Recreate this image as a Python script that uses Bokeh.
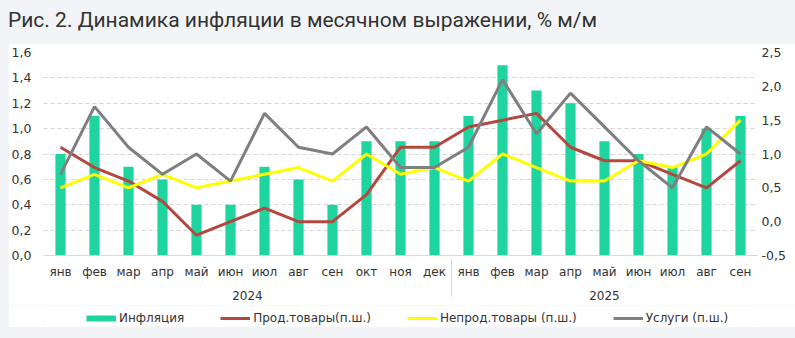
from bokeh.plotting import figure
from bokeh.models import (FactorRange, Range1d, LinearAxis, FixedTicker,
                          CustomJSTickFormatter, Legend, LegendItem, Div, ColumnDataSource)
from bokeh.layouts import column
from bokeh.embed import file_html
from bokeh.resources import INLINE

# ---- data ----
years = ["2024"] * 12 + ["2025"] * 9
months = ["янв", "фев", "мар", "апр", "май", "июн", "июл", "авг", "сен", "окт", "ноя", "дек",
          "янв", "фев", "мар", "апр", "май", "июн", "июл", "авг", "сен"]
inflation = [0.8, 1.1, 0.7, 0.6, 0.4, 0.4, 0.7, 0.6, 0.4, 0.9, 0.9, 0.9,
             1.1, 1.5, 1.3, 1.2, 0.9, 0.8, 0.7, 1.0, 1.1]
food = [1.1, 0.8, 0.6, 0.3, -0.2, 0.0, 0.2, 0.0, 0.0, 0.4, 1.1, 1.1,
        1.4, 1.5, 1.6, 1.1, 0.9, 0.9, 0.7, 0.5, 0.9]
nonfood = [0.5, 0.7, 0.5, 0.7, 0.5, 0.6, 0.7, 0.8, 0.6, 1.0, 0.7, 0.8,
           0.6, 1.0, 0.8, 0.6, 0.6, 0.9, 0.8, 1.0, 1.5]
services = [0.7, 1.7, 1.1, 0.7, 1.0, 0.6, 1.6, 1.1, 1.0, 1.4, 0.8, 0.8,
            1.1, 2.1, 1.3, 1.9, 1.4, 0.9, 0.5, 1.4, 1.0]
left_ticks = [0.0, 0.2, 0.4, 0.6, 0.8, 1.0, 1.2, 1.4, 1.6]
right_ticks = [-0.5, 0.0, 0.5, 1.0, 1.5, 2.0, 2.5]
title_text = "Рис. 2. Динамика инфляции в месячном выражении, % м/м"
names = ["Инфляция", "Прод.товары(п.ш.)", "Непрод.товары (п.ш.)", "Услуги (п.ш.)"]

factors = list(zip(years, months))
src = ColumnDataSource(dict(x=factors, infl=inflation, food=food, nonfood=nonfood, serv=services))

FONT = "DejaVu Sans"
TXT = "#333333"
GREEN = "#1ed5a0"
RED = "#b3483e"
YELLOW = "#ffff00"
GRAY = "#7f7f7f"
BG = "#f2f4f7"

p = figure(x_range=FactorRange(*factors, factor_padding=0, group_padding=0, range_padding=0),
           y_range=Range1d(left_ticks[0], left_ticks[-1]),
           width=787, height=262, output_backend="svg", toolbar_location=None,
           min_border_left=34, min_border_right=38, min_border_top=9, min_border_bottom=50,
           background_fill_color="white", border_fill_color="white",
           outline_line_color=None, margin=(0, 0, 0, 8))
p.extra_y_ranges = {"right": Range1d(right_ticks[0], right_ticks[-1])}

fmt = CustomJSTickFormatter(code="return tick.toFixed(1).replace('.', ',')")


def style_axis(ax, standoff, size):
    ax.major_tick_line_color = None
    ax.minor_tick_line_color = None
    ax.major_tick_out = 0
    ax.major_tick_in = 0
    ax.minor_tick_out = 0
    ax.minor_tick_in = 0
    ax.major_label_standoff = standoff
    ax.major_label_text_font = FONT
    ax.major_label_text_font_size = size
    ax.major_label_text_color = TXT


# left axis
ya = p.yaxis[0]
ya.ticker = FixedTicker(ticks=left_ticks)
ya.formatter = fmt
ya.axis_line_color = None
style_axis(ya, 12, "12.5px")

# right axis
ra = LinearAxis(y_range_name="right", ticker=FixedTicker(ticks=right_ticks), formatter=fmt)
ra.axis_line_color = None
style_axis(ra, 4, "12.5px")
p.add_layout(ra, "right")

# x axis
xa = p.xaxis[0]
xa.axis_line_color = "#d9d9d9"
style_axis(xa, 9, "12px")
xa.group_text_font = FONT
xa.group_text_font_size = "12px"
xa.group_text_color = TXT
xa.group_text_font_style = "normal"
xa.separator_line_color = "#d9d9d9"
xa.separator_line_width = 1

p.xgrid.visible = False
p.ygrid.grid_line_color = "#d4d4d4"
p.ygrid.grid_line_dash = "4 3"

p.vbar(x="x", top="infl", width=0.3, source=src, color=GREEN, line_color=None)
p.line(x="x", y="food", source=src, y_range_name="right", line_color=RED, line_width=3)
p.line(x="x", y="nonfood", source=src, y_range_name="right", line_color=YELLOW, line_width=3)
p.line(x="x", y="serv", source=src, y_range_name="right", line_color=GRAY, line_width=3)

# ---- legend strip (separate small figure below the axis) ----
lg = figure(width=787, height=22, output_backend="svg", toolbar_location=None,
            x_range=Range1d(0, 1), y_range=Range1d(0, 1),
            x_axis_type=None, y_axis_type=None,
            min_border_left=0, min_border_right=0, min_border_top=0, min_border_bottom=0,
            background_fill_color="white", border_fill_color="white",
            outline_line_color=None, margin=(0, 0, 0, 8))
nan = [float("nan")]
k_infl = lg.line(x=nan, y=nan, line_color=GREEN, line_width=6)
k_food = lg.line(x=nan, y=nan, line_color=RED, line_width=3)
k_non = lg.line(x=nan, y=nan, line_color=YELLOW, line_width=3)
k_serv = lg.line(x=nan, y=nan, line_color=GRAY, line_width=3)
legend = Legend(items=[LegendItem(label=names[0], renderers=[k_infl]),
                       LegendItem(label=names[1], renderers=[k_food]),
                       LegendItem(label=names[2], renderers=[k_non]),
                       LegendItem(label=names[3], renderers=[k_serv])],
                orientation="horizontal", location=(43, 2), spacing=36,
                label_standoff=3, glyph_width=30, glyph_height=14,
                label_text_font=FONT, label_text_font_size="12px", label_text_color=TXT,
                border_line_color=None, background_fill_alpha=0, padding=0, margin=0)
lg.add_layout(legend)

title = Div(text=title_text, width=787, height=43, margin=(0, 0, 0, 8),
            styles={"font-family": "Roboto", "font-size": "21px", "color": "#333333",
                    "line-height": "24px", "padding-top": "8px"})

layout = column(title, p, lg, spacing=0, margin=0)

html = file_html(layout, INLINE)
html = html.replace("<body>", f'<body style="margin:0;background:{BG};">')
open("out.html", "w").write(html)
